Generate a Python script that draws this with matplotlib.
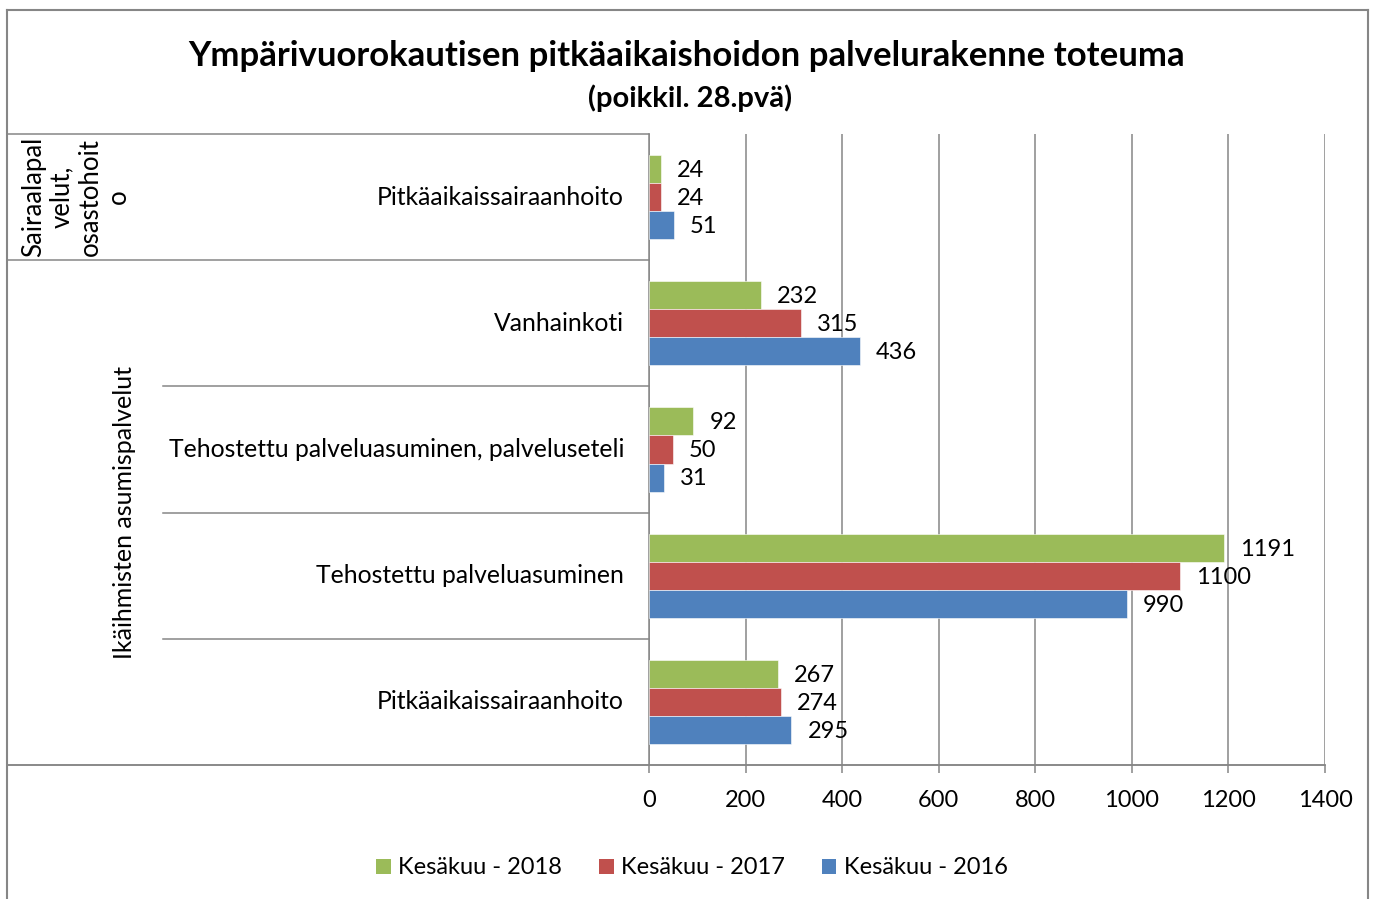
import numpy as np
import matplotlib
matplotlib.use("Agg")
import matplotlib.pyplot as plt
from matplotlib.lines import Line2D
from matplotlib.patches import Patch

plt.rcParams["font.family"] = ["Lato", "DejaVu Sans"]

# ---------------------------------------------------------------------------
# Data (top to bottom)
# ---------------------------------------------------------------------------
categories = [
    "Pitkäaikaissairaanhoito",
    "Vanhainkoti",
    "Tehostettu palveluasuminen, palveluseteli",
    "Tehostettu palveluasuminen",
    "Pitkäaikaissairaanhoito",
]
groups = ["Sairaalapal\nvelut,\nosastohoit\no", "Ikäihmisten asumispalvelut"]
group_sizes = [1, 4]

series_names = ["Kesäkuu - 2018", "Kesäkuu - 2017", "Kesäkuu - 2016"]
v2018 = [24, 232, 92, 1191, 267]
v2017 = [24, 315, 50, 1100, 274]
v2016 = [51, 436, 31, 990, 295]
xticks = [0, 200, 400, 600, 800, 1000, 1200, 1400]

GREEN = "#9BBB59"
RED = "#C0504D"
BLUE = "#4F81BD"
GRID = "#868686"
W, H = 1374, 899

fig = plt.figure(figsize=(W / 100, H / 100), dpi=100)
ax = fig.add_axes([649 / W, 1 - 765 / H, 676 / W, 631 / H])

n = len(categories)
centers = n - 0.5 - np.arange(n)
bh = 0.222
for vals, off, col in [(v2018, bh, GREEN), (v2017, 0, RED), (v2016, -bh, BLUE)]:
    bars = ax.barh(centers + off, vals, height=bh, color=col,
                   edgecolor="white", linewidth=0.4, zorder=3)
    for b, v in zip(bars, vals):
        ax.annotate(str(v), (b.get_width(), b.get_y() + bh / 2),
                    xytext=(11.5, -1), textcoords="offset points",
                    ha="left", va="center", fontsize=17, zorder=4)

ax.set_xlim(0, 1400)
ax.set_ylim(0, n)
ax.set_xticks(xticks)
ax.tick_params(axis="x", length=6, width=1.1, color=GRID, labelsize=17, pad=12)
ax.set_yticks([])
ax.grid(axis="x", color=GRID, linewidth=1.1, zorder=0)
for s in ["top", "right"]:
    ax.spines[s].set_visible(False)
for s in ["left", "bottom"]:
    ax.spines[s].set_color(GRID)
    ax.spines[s].set_linewidth(1.1)

# Category labels and divider lines on the left side
ytr = ax.get_yaxis_transform()
for c, lab in zip(centers, categories):
    ax.text(-0.037, c, lab, transform=ytr, ha="right", va="center", fontsize=17.8)

x_out = (7 - 649) / 676
x_in = (163 - 649) / 676
group_edges = [n]
for g in group_sizes:
    group_edges.append(group_edges[-1] - g)
for y in range(n + 1):
    x0 = x_out if y in group_edges else x_in
    ax.plot([x0, 0], [y, y], transform=ytr, color=GRID, linewidth=1.1,
            clip_on=False, zorder=5)
ax.plot([x_out, 1], [0, 0], transform=ytr, color=GRID, linewidth=1.1,
        clip_on=False, zorder=5)

# Group labels
ax.text((76 - 649) / 676, group_edges[0] - group_sizes[0] / 2, groups[0],
        transform=ytr, rotation=90, ha="center", va="center",
        multialignment="center", fontsize=18.5, linespacing=1.15)
ax.text((125 - 649) / 676, group_edges[1] - group_sizes[1] / 2, groups[1],
        transform=ytr, rotation=90, ha="center", va="center", fontsize=18)

# Title
fig.text(687 / W, 1 - 56 / H,
         "Ympärivuorokautisen pitkäaikaishoidon palvelurakenne toteuma",
         ha="center", va="center", fontsize=25, fontweight="bold")
fig.text(690 / W, 1 - 98 / H, "(poikkil. 28.pvä)",
         ha="center", va="center", fontsize=21, fontweight="bold")

# Legend
handles = [Patch(facecolor=c, edgecolor="none") for c in (GREEN, RED, BLUE)]
fig.legend(handles, series_names, loc="center", bbox_to_anchor=(692 / W, 1 - 868 / H),
           ncol=3, frameon=False, fontsize=17, handlelength=0.6, handleheight=0.6,
           handletextpad=0.3, columnspacing=1.6)

# Outer chart frame
for xs, ys in [([7, 7], [10, H + 5]), ([1368, 1368], [10, H + 5]), ([7, 1368], [10, 10])]:
    fig.add_artist(Line2D([x / W for x in xs], [1 - y / H for y in ys],
                          color=GRID, linewidth=1.5))

fig.savefig("out.png", dpi=100, facecolor="white")
